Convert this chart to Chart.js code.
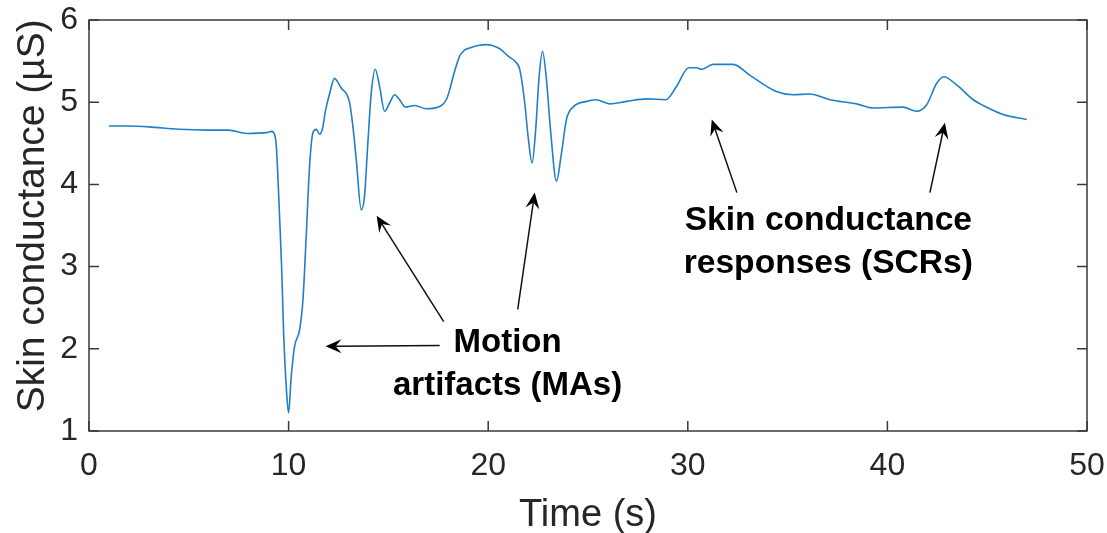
<!DOCTYPE html>
<html><head><meta charset="utf-8">
<script src="https://cdn.jsdelivr.net/npm/chart.js@4"></script>
<style>html,body{margin:0;padding:0;background:#fff}#wrap{width:1107px;height:533px}</style>
</head><body><div id="wrap"><canvas id="c"></canvas></div>
<script>
const timeS = [1.0,2.0,3.0,4.5,6.0,7.0,7.9,8.9,9.15,9.35,9.55,9.65,9.75,9.9,10.0,10.13,10.3,10.55,10.72,10.89,11.05,11.22,11.39,11.55,11.7,11.85,12.05,12.3,12.45,12.64,12.9,13.05,13.22,13.39,13.64,13.8,13.97,14.14,14.34,14.56,14.81,15.06,15.31,15.56,15.85,16.32,16.9,17.6,17.9,18.07,18.24,18.57,18.8,19.07,19.5,19.91,20.2,20.58,21.0,21.33,21.58,21.83,22.0,22.2,22.38,22.55,22.72,22.92,23.12,23.42,23.67,23.92,24.25,24.92,25.4,26.09,26.93,27.93,28.9,29.43,30.05,30.44,30.69,31.27,32.27,33.1,34.44,35.28,36.1,37.12,38.46,39.29,40.79,41.46,41.97,42.47,42.83,43.47,44.3,44.8,45.8,46.98];
const conductance = [4.71,4.71,4.70,4.67,4.66,4.66,4.62,4.63,4.645,4.55,3.6,3.0,2.20,1.47,1.22,1.66,2.03,2.23,2.6,3.41,4.22,4.63,4.67,4.61,4.68,4.90,5.10,5.29,5.25,5.17,5.10,5.0,4.71,4.30,3.69,3.85,4.50,5.11,5.40,5.19,4.89,4.99,5.09,5.03,4.94,4.96,4.92,4.95,5.03,5.15,5.31,5.56,5.63,5.66,5.69,5.70,5.69,5.65,5.56,5.50,5.40,4.99,4.58,4.26,4.67,5.31,5.62,5.27,4.67,4.04,4.38,4.79,4.94,5.01,5.03,4.98,5.01,5.04,5.03,5.19,5.42,5.42,5.40,5.46,5.46,5.33,5.13,5.09,5.10,5.03,4.98,4.93,4.94,4.89,4.97,5.23,5.31,5.21,5.03,4.96,4.85,4.79];
const xTickValues = [0,10,20,30,40,50];
const yTickValues = [1,2,3,4,5,6];
const xLabel = 'Time (s)';
const yLabel = '\u2002Skin conductance (\u00b5S)';
const notes = [
  {lines:['Motion','artifacts (MAs)'], t:20.97, v:1.965, size:33},
  {lines:['Skin conductance','responses (SCRs)'], t:37.04, v:3.45, size:33.6}
];
const arrows = [
  {from:[17.57,2.04], to:[11.85,2.03]},
  {from:[17.77,2.33], to:[14.41,3.62]},
  {from:[21.48,2.48], to:[22.33,3.90]},
  {from:[32.46,3.90], to:[31.2,4.79]},
  {from:[42.13,3.90], to:[42.88,4.75]}
];

const points = timeS.map((t,i)=>({x:t,y:conductance[i]}));
const FONT = 'Liberation Sans, Arial, Helvetica, sans-serif';

const frame = {
  id:'frame',
  afterDraw(chart){
    const {ctx, chartArea:a, scales:{x,y}} = chart;
    ctx.save();
    ctx.strokeStyle = '#3a3a3a';
    ctx.lineWidth = 1.5;
    ctx.strokeRect(a.left, a.top, a.right-a.left, a.bottom-a.top);
    const L = 10;
    ctx.beginPath();
    xTickValues.forEach(v=>{
      const px = x.getPixelForValue(v);
      ctx.moveTo(px,a.bottom); ctx.lineTo(px,a.bottom-L);
      ctx.moveTo(px,a.top); ctx.lineTo(px,a.top+L);
    });
    yTickValues.forEach(v=>{
      const py = y.getPixelForValue(v);
      ctx.moveTo(a.left,py); ctx.lineTo(a.left+L,py);
      ctx.moveTo(a.right,py); ctx.lineTo(a.right-L,py);
    });
    ctx.stroke();
    ctx.strokeStyle = '#111';
    ctx.fillStyle = '#000';
    ctx.lineWidth = 1.5;
    arrows.forEach(ar=>{
      const x0 = x.getPixelForValue(ar.from[0]), y0 = y.getPixelForValue(ar.from[1]);
      const x1 = x.getPixelForValue(ar.to[0]), y1 = y.getPixelForValue(ar.to[1]);
      const ang = Math.atan2(y1-y0, x1-x0);
      const len = 16, half = 7, notch = 10;
      const ux = Math.cos(ang), uy = Math.sin(ang);
      ctx.beginPath();
      ctx.moveTo(x0,y0);
      ctx.lineTo(x1-ux*notch, y1-uy*notch);
      ctx.stroke();
      ctx.beginPath();
      ctx.moveTo(x1,y1);
      ctx.lineTo(x1-ux*len - uy*half, y1-uy*len + ux*half);
      ctx.lineTo(x1-ux*notch, y1-uy*notch);
      ctx.lineTo(x1-ux*len + uy*half, y1-uy*len - ux*half);
      ctx.closePath();
      ctx.fill();
    });
    ctx.textAlign = 'center';
    ctx.textBaseline = 'alphabetic';
    ctx.fillStyle = '#000';
    notes.forEach(n=>{
      ctx.font = 'bold ' + n.size + 'px ' + FONT;
      const cx = x.getPixelForValue(n.t), cy = y.getPixelForValue(n.v);
      n.lines.forEach((ln,i)=>ctx.fillText(ln, cx, cy + i*43));
    });
    ctx.restore();
  }
};

new Chart(document.getElementById('c'), {
  type:'line',
  data:{datasets:[{
    data:points,
    borderColor:'#1f80c9',
    borderWidth:1.6,
    pointRadius:0,
    fill:false,
    cubicInterpolationMode:'monotone'
  }]},
  options:{
    responsive:true,
    maintainAspectRatio:false,
    animation:false,
    layout:{padding:{top:20,right:20,left:0,bottom:0}},
    plugins:{legend:{display:false},tooltip:{enabled:false}},
    scales:{
      x:{
        type:'linear', min:0, max:50,
        afterBuildTicks(s){ s.ticks = xTickValues.map(v=>({value:v})); },
        afterFit(s){ s.height = 102; s.paddingLeft = 0; s.paddingRight = 0; },
        grid:{display:false, drawTicks:false},
        border:{display:false},
        ticks:{padding:16, maxRotation:0, autoSkip:false, color:'#262626', font:{family:FONT, size:32}},
        title:{display:true, text:xLabel, color:'#262626', font:{family:FONT, size:38}, padding:{top:0,bottom:-5}}
      },
      y:{
        type:'linear', min:1, max:6,
        afterBuildTicks(s){ s.ticks = yTickValues.map(v=>({value:v})); },
        afterFit(s){ s.width = 89; s.paddingTop = 0; s.paddingBottom = 0; },
        grid:{display:false, drawTicks:false},
        border:{display:false},
        ticks:{padding:11, color:'#262626', font:{family:FONT, size:32}},
        title:{display:true, text:yLabel, color:'#262626', font:{family:FONT, size:39}, padding:{top:10,bottom:0}}
      }
    }
  },
  plugins:[frame]
});
</script>
</body></html>
